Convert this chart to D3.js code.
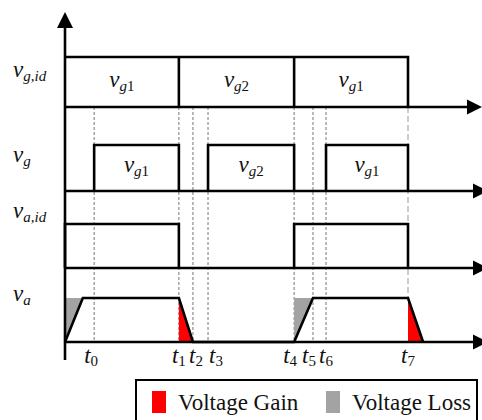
<!DOCTYPE html>
<html>
<head>
<meta charset="utf-8">
<script src="https://cdn.jsdelivr.net/npm/d3@7"></script>
<style>
  html, body { margin: 0; padding: 0; background: #fff; }
  svg { display: block; }
</style>
</head>
<body>
<div id="chartContainer"><svg></svg></div>
<script>
// time instants (arbitrary units, t7 = 10)
const tickNames = ["0", "1", "2", "3", "4", "5", "6", "7"];
const tickTimes = [0.85, 3.32, 3.73, 4.17, 6.68, 7.23, 7.61, 10.0];

// v_g,id : ideal grid-voltage selection (edges + segment names)
const vgIdEdges = [0, 3.32, 6.68, 10.0];
const vgIdNames = ["1", "2", "1"];

// v_g : actual gate pulses
const vgPulses = [[0.85, 3.32], [4.17, 6.68], [7.61, 10.0]];
const vgNames = ["1", "2", "1"];

// v_a,id : ideal output
const vaIdPulses = [[0, 3.32], [6.68, 10.0]];

// v_a : real output (time, level)
const vaWave = [[0, 0], [0.52, 1], [3.32, 1], [3.73, 0], [6.68, 0], [7.23, 1], [10.0, 1], [10.44, 0]];
const gainAreas = [[[3.32, 1], [3.32, 0], [3.73, 0]], [[10.0, 1], [10.0, 0], [10.44, 0]]];
const lossAreas = [[[0, 1], [0.52, 1], [0, 0]], [[6.68, 1], [7.23, 1], [6.68, 0]]];

const rowLabels = ["g,id", "g", "a,id", "a"];
const legendItems = ["Voltage Gain", "Voltage Loss"];

const FONT = "Liberation Serif";

document.addEventListener("DOMContentLoaded", function () {
  drawTiming();
});

function drawTiming() {
  const width = 482, height = 420;
  const svg = d3.select("#chartContainer svg").attr("width", width).attr("height", height);

  const x = d3.scaleLinear().domain([0, 10]).range([65, 408]);

  // row bands: [baseline, high level]
  const rows = [[107, 57], [191, 145], [268, 224], [342, 298]];
  const axisEnd = [467, 473, 473, 473];
  const y = rows.map(r => d3.scaleLinear().domain([0, 1]).range(r));

  const stroke = "#000", sw = 2.6;
  const red = "#ff0000", grey = "#a3a3a3";

  // dashed guide lines
  const dashStyle = ["3,2", "3,2", "3,2", "3,2", "3,2", "3,2", "3,2", "6,3"];
  svg.append("g").selectAll("line")
      .data(tickTimes)
      .enter().append("line")
      .attr("x1", d => x(d)).attr("x2", d => x(d))
      .attr("y1", rows[0][0]).attr("y2", (d, i) => i === 7 ? rows[3][1] : rows[3][0])
      .attr("stroke", (d, i) => i === 7 ? "#999" : "#777")
      .attr("stroke-width", 1)
      .attr("stroke-dasharray", (d, i) => dashStyle[i]);

  // gain / loss fills
  const area = d3.line().x(d => x(d[0])).y(d => y[3](d[1]));
  gainAreas.forEach(a => svg.append("path").attr("d", area(a) + "Z").attr("fill", red));
  lossAreas.forEach(a => svg.append("path").attr("d", area(a) + "Z").attr("fill", grey));

  // horizontal time axes with arrows
  rows.forEach((r, i) => {
    svg.append("line")
        .attr("x1", x(0)).attr("x2", axisEnd[i])
        .attr("y1", r[0]).attr("y2", r[0])
        .attr("stroke", stroke).attr("stroke-width", sw);
    svg.append("path")
        .attr("d", `M${axisEnd[i]},${r[0] - 7.5}L${axisEnd[i] + 15},${r[0]}L${axisEnd[i]},${r[0] + 7.5}Z`)
        .attr("fill", stroke);
  });

  // vertical axis
  svg.append("line").attr("x1", x(0)).attr("x2", x(0)).attr("y1", 26).attr("y2", 360)
      .attr("stroke", stroke).attr("stroke-width", sw);
  svg.append("path").attr("d", `M${x(0) - 8},28L${x(0)},12L${x(0) + 8},28Z`).attr("fill", stroke);

  const lineGen = d3.line();

  // row 1: v_g,id blocks
  const top = rows[0][1], base = rows[0][0];
  const lastEdge = vgIdEdges[vgIdEdges.length - 1];
  svg.append("path")
      .attr("d", lineGen([[x(0), top], [x(lastEdge), top], [x(lastEdge), base]]))
      .attr("fill", "none").attr("stroke", stroke).attr("stroke-width", sw);
  vgIdEdges.slice(1, -1).forEach(e => {
    svg.append("line").attr("x1", x(e)).attr("x2", x(e)).attr("y1", top).attr("y2", base)
        .attr("stroke", stroke).attr("stroke-width", sw);
  });
  vgIdNames.forEach((n, i) => {
    const cx = (x(vgIdEdges[i]) + x(vgIdEdges[i + 1])) / 2;
    mathLabel(svg, cx, 87, "v", "g", n, "middle");
  });

  // row 2 & 3 pulses
  function pulses(list, r) {
    list.forEach(p => {
      svg.append("path")
          .attr("d", lineGen([[x(p[0]), y[r](0)], [x(p[0]), y[r](1)], [x(p[1]), y[r](1)], [x(p[1]), y[r](0)]]))
          .attr("fill", "none").attr("stroke", stroke).attr("stroke-width", sw);
    });
  }
  pulses(vgPulses, 1);
  pulses(vaIdPulses, 2);
  vgPulses.forEach((p, i) => {
    mathLabel(svg, (x(p[0]) + x(p[1])) / 2, 172, "v", "g", vgNames[i], "middle");
  });

  // row 4: v_a waveform
  svg.append("path")
      .attr("d", lineGen(vaWave.map(d => [x(d[0]), y[3](d[1])])))
      .attr("fill", "none").attr("stroke", stroke).attr("stroke-width", sw);

  // row labels
  const rowLabelY = [77, 162, 218, 301];
  rowLabels.forEach((l, i) => mathLabel(svg, 13, rowLabelY[i], "v", l, "", "start"));

  // time labels
  const tickDx = [-3, 0, 3, 8, -4, -4, 0, 0];
  tickTimes.forEach((t, i) => {
    const txt = svg.append("text").attr("x", x(t) + tickDx[i]).attr("y", 363)
        .attr("text-anchor", "middle").attr("font-family", FONT).attr("font-size", 23).attr("fill", "#111");
    txt.append("tspan").attr("font-style", "italic").text("t");
    txt.append("tspan").attr("dy", 3).attr("font-size", 15).text(tickNames[i]);
  });

  // legend
  const lg = svg.append("g");
  lg.append("rect").attr("x", 136).attr("y", 380).attr("width", 341).attr("height", 60)
      .attr("fill", "#fff").attr("stroke", stroke).attr("stroke-width", 2);
  const legendX = [152, 326];
  legendItems.forEach((name, i) => {
    lg.append("rect").attr("x", legendX[i]).attr("y", 391).attr("width", 14).attr("height", 22)
        .attr("fill", i === 0 ? red : grey);
    lg.append("text").attr("x", legendX[i] + 26).attr("y", 410)
        .attr("font-family", FONT).attr("font-size", 23).attr("fill", "#111").text(name);
  });
}

function mathLabel(svg, px, py, main, subItalic, subUpright, anchor) {
  const t = svg.append("text").attr("x", px).attr("y", py).attr("text-anchor", anchor)
      .attr("font-family", FONT).attr("font-size", 23).attr("fill", "#111");
  t.append("tspan").attr("font-style", "italic").text(main);
  t.append("tspan").attr("dy", 4).attr("font-size", 15).attr("font-style", "italic").text(subItalic);
  if (subUpright) t.append("tspan").attr("font-size", 15).text(subUpright);
  return t;
}
</script>
</body>
</html>
